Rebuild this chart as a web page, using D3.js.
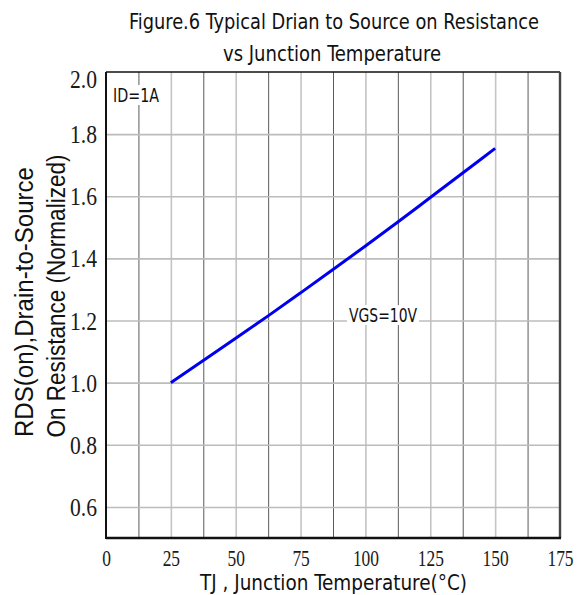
<!DOCTYPE html>
<html>
<head>
<meta charset="utf-8">
<script src="https://cdn.jsdelivr.net/npm/d3@7"></script>
<style>
  html, body { margin: 0; padding: 0; background: #fff; }
  svg { display: block; }
</style>
</head>
<body>
<div id="chart"></div>
<script>
// ---- data ----
const tempC   = [25, 37.5, 50, 62.5, 75, 87.5, 100, 112.5, 125, 137.5, 150];
const rdsNorm = [1.0, 1.071, 1.143, 1.215, 1.289, 1.364, 1.440, 1.517, 1.596, 1.675, 1.754];
const xTickValues = [0, 25, 50, 75, 100, 125, 150, 175];
const xMinorGrid  = [12.5, 37.5, 62.5, 87.5, 112.5, 137.5, 162.5];
const yTickValues = [0.6, 0.8, 1.0, 1.2, 1.4, 1.6, 1.8, 2.0];
const titleLines  = ["Figure.6 Typical Drian to Source on Resistance", "vs Junction Temperature"];
const xLabel = "TJ , Junction Temperature(°C)";
const yLabelLines = ["RDS(on),Drain-to-Source", "On Resistance (Normalized)"];
const notes = [{text: "ID=1A"}, {text: "VGS=10V"}];

// ---- layout ----
const W = 585, H = 595;
const L = 106, R = 560, T = 72, B = 538;
const sansC = "'DejaVu Sans Condensed', 'DejaVu Sans', sans-serif";
const serif = "'Liberation Serif', 'DejaVu Serif', serif";

const svg = d3.select("#chart").append("svg").attr("width", W).attr("height", H);

const x = d3.scaleLinear().domain([0, 175]).range([L, R]);
const y = d3.scaleLinear().domain([0.5, 2.0]).range([B, T]);

// ---- grid ----
const gMajor = svg.append("g").attr("transform", `translate(0,${B})`)
  .call(d3.axisBottom(x).tickValues(xTickValues.filter(v => v > 0 && v < 175)).tickSize(-(B - T)).tickFormat(""));
gMajor.select(".domain").remove();
gMajor.selectAll("line").attr("stroke", "#c4c4c4").attr("stroke-width", 1.6);

const gMinor = svg.append("g").attr("transform", `translate(0,${B})`)
  .call(d3.axisBottom(x).tickValues(xMinorGrid).tickSize(-(B - T)).tickFormat(""));
gMinor.select(".domain").remove();
gMinor.selectAll("line").attr("stroke", "#5a5a5a").attr("stroke-width", 1);

const gH = svg.append("g").attr("transform", `translate(${L},0)`)
  .call(d3.axisLeft(y).tickValues(yTickValues.filter(v => v < 2.0)).tickSize(-(R - L)).tickFormat(""));
gH.select(".domain").remove();
gH.selectAll("line").attr("stroke", "#bcbcbc").attr("stroke-width", 1.6);

// ---- frame ----
svg.append("line").attr("x1", L).attr("x2", R).attr("y1", T).attr("y2", T).attr("stroke", "#111").attr("stroke-width", 1.6);
svg.append("line").attr("x1", R).attr("x2", R).attr("y1", T).attr("y2", B).attr("stroke", "#444").attr("stroke-width", 2.4);
svg.append("line").attr("x1", L).attr("x2", R + 1).attr("y1", B).attr("y2", B).attr("stroke", "#111").attr("stroke-width", 2.4);
svg.append("line").attr("x1", L).attr("x2", L).attr("y1", T).attr("y2", B + 1).attr("stroke", "#111").attr("stroke-width", 2);

// ---- tick labels (narrow serif digits) ----
const digitW = 8.7;
const xAx = svg.append("g").attr("transform", `translate(0,${B})`)
  .call(d3.axisBottom(x).tickValues(xTickValues).tickSize(0).tickPadding(0).tickFormat(d3.format("d")));
xAx.select(".domain").remove();
xAx.selectAll("text")
  .attr("font-family", serif).attr("font-size", 23).attr("fill", "#1a1a1a")
  .attr("y", 28).attr("dy", 0)
  .attr("textLength", function() { return this.textContent.length * digitW; })
  .attr("lengthAdjust", "spacingAndGlyphs");

const yAx = svg.append("g").attr("transform", `translate(${L},0)`)
  .call(d3.axisLeft(y).tickValues(yTickValues).tickSize(0).tickPadding(9).tickFormat(d3.format(".1f")));
yAx.select(".domain").remove();
yAx.selectAll("text")
  .attr("font-family", serif).attr("font-size", 25).attr("fill", "#1a1a1a")
  .attr("dy", d => d === 2.0 ? "0.62em" : "0.34em")
  .attr("textLength", 27).attr("lengthAdjust", "spacingAndGlyphs");

// ---- curve ----
const pts = tempC.map((t, i) => [t, rdsNorm[i]]);
svg.append("path").datum(pts)
  .attr("fill", "none").attr("stroke", "#0000ee").attr("stroke-width", 3)
  .attr("d", d3.line().x(d => x(d[0])).y(d => y(d[1])).curve(d3.curveMonotoneX));

// ---- notes ----
const notePos = [{x: 113, y: 102, len: 46}, {x: 349, y: 322, len: 68}];
notes.forEach((n, i) => {
  const p = notePos[i];
  svg.append("rect").attr("x", p.x - 2).attr("y", p.y - 17).attr("width", p.len + 4).attr("height", 20).attr("fill", "#fff");
  svg.append("text").attr("x", p.x).attr("y", p.y)
    .attr("font-family", sansC).attr("font-size", 20).attr("fill", "#111")
    .attr("textLength", p.len).attr("lengthAdjust", "spacingAndGlyphs")
    .text(n.text);
});

// ---- title ----
const titlePos = [{cx: 334, y: 29, len: 410}, {cx: 332, y: 61, len: 218}];
titleLines.forEach((t, i) => {
  const p = titlePos[i];
  svg.append("text").attr("x", p.cx).attr("y", p.y).attr("text-anchor", "middle")
    .attr("font-family", sansC).attr("font-size", 21).attr("fill", "#111")
    .attr("textLength", p.len).attr("lengthAdjust", "spacingAndGlyphs")
    .text(t);
});

// ---- axis labels ----
svg.append("text").attr("x", 333.5).attr("y", 590).attr("text-anchor", "middle")
  .attr("font-family", sansC).attr("font-size", 21).attr("fill", "#111")
  .attr("textLength", 267).attr("lengthAdjust", "spacingAndGlyphs")
  .text(xLabel);

const yLabPos = [{bx: 33, cy: 302, len: 270}, {bx: 65, cy: 296, len: 283}];
yLabelLines.forEach((t, i) => {
  const p = yLabPos[i];
  svg.append("text").attr("transform", `translate(${p.bx},${p.cy}) rotate(-90)`)
    .attr("text-anchor", "middle")
    .attr("font-family", "'Liberation Sans', Arial, sans-serif").attr("font-size", 25).attr("fill", "#111")
    .attr("textLength", p.len).attr("lengthAdjust", "spacingAndGlyphs")
    .text(t);
});
</script>
</body>
</html>
